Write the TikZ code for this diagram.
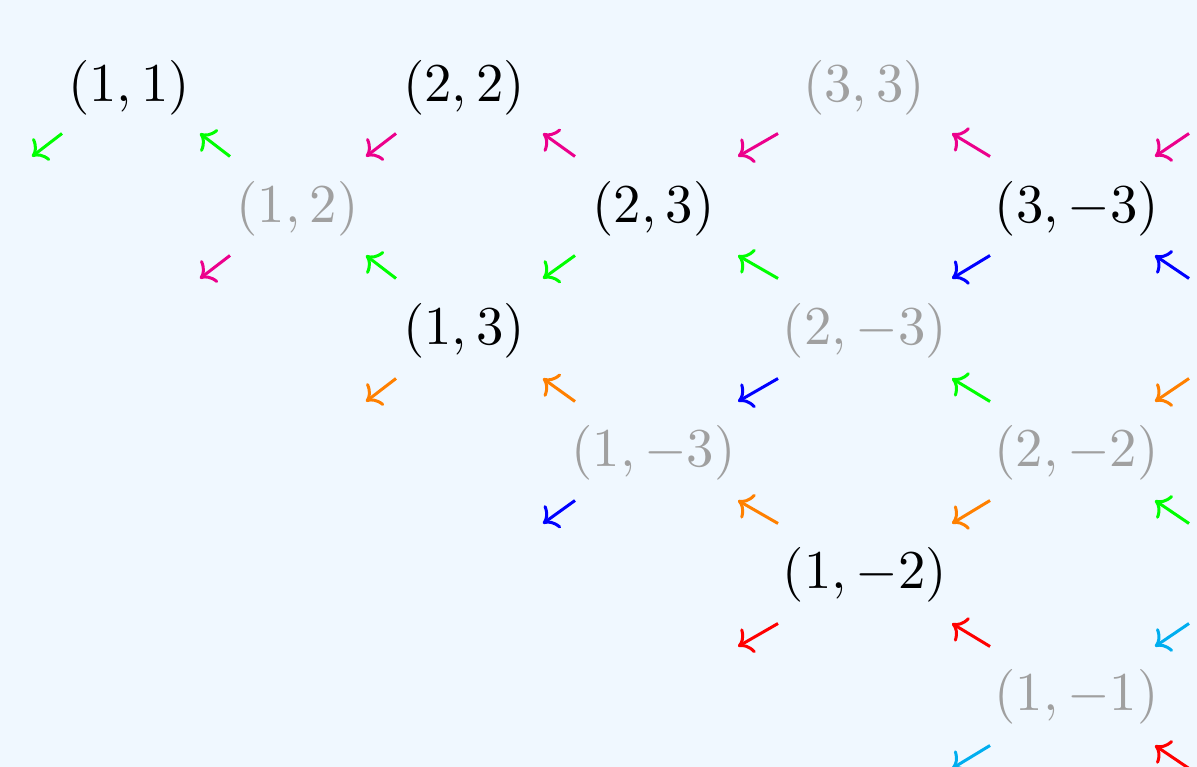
\documentclass[tikz,border=0pt]{standalone}
\usetikzlibrary{arrows.meta}
\definecolor{bgc}{HTML}{F0F8FF}
\definecolor{cgreen}{HTML}{00FF00}
\definecolor{cmag}{HTML}{EC008C}
\definecolor{cblue}{HTML}{0000FF}
\definecolor{corange}{HTML}{FF8000}
\definecolor{cred}{HTML}{FF0000}
\definecolor{ccyan}{HTML}{00AEEF}
\definecolor{cgray}{HTML}{A0A0A0}
\begin{document}
\begin{tikzpicture}[x=0.2pt,y=-0.2pt,
  lbl/.style={inner sep=0pt, text=black, font=\fontsize{10.7pt}{13pt}\selectfont},
  lblg/.style={lbl, text=cgray},
  arr/.style={line width=0.6pt, -{Computer Modern Rightarrow[length=2.6pt,width=5.6pt]}}]
\fill[bgc] (0,0) rectangle (1197,767);
\useasboundingbox (0,0) rectangle (1197,767);
% nodes
\node[lbl]  (n11) at (129,87.5) {$(1,1)$};
\node[lbl]  (n22) at (464,87.5) {$(2,2)$};
\node[lblg] (n33) at (864,87.5) {$(3,3)$};
\node[lblg] (n12) at (297.5,209) {$(1,2)$};
\node[lbl]  (n23) at (653.5,209) {$(2,3)$};
\node[lbl]  (n3m3) at (1077,209) {$(3,-3)$};
\node[lbl]  (n13) at (464,331) {$(1,3)$};
\node[lblg] (n2m3) at (865,331) {$(2,-3)$};
\node[lblg] (n1m3) at (653.5,453) {$(1,-3)$};
\node[lblg] (n2m2) at (1076.5,453) {$(2,-2)$};
\node[lbl]  (n1m2) at (865,575) {$(1,-2)$};
\node[lblg] (n1m1) at (1076.5,697) {$(1,-1)$};
% arrows: args: xleft, xright, ycenter, colour
\newcommand{\dlarr}[4]{\draw[arr,#4] (#2,#3-11.5) -- (#1,#3+11.5);}
\newcommand{\ularr}[4]{\draw[arr,#4] (#2,#3+11.5) -- (#1,#3-11.5);}
% row 1
\dlarr{32}{62}{145}{cgreen}
\ularr{200}{230}{145}{cgreen}
\dlarr{366}{396}{145}{cmag}
\ularr{543}{575}{145}{cmag}
\dlarr{738}{778}{145}{cmag}
\ularr{952}{990}{145}{cmag}
\dlarr{1155}{1189}{145}{cmag}
% row 2
\dlarr{200}{230}{267}{cmag}
\ularr{366}{396}{267}{cgreen}
\dlarr{543}{575}{267}{cgreen}
\ularr{738}{778}{267}{cgreen}
\dlarr{952}{990}{267}{cblue}
\ularr{1155}{1189}{267}{cblue}
% row 3
\dlarr{366}{396}{390}{corange}
\ularr{543}{575}{390}{corange}
\dlarr{738}{778}{390}{cblue}
\ularr{952}{990}{390}{cgreen}
\dlarr{1155}{1189}{390}{corange}
% row 4
\dlarr{543}{575}{512}{cblue}
\ularr{738}{778}{512}{corange}
\dlarr{952}{990}{512}{corange}
\ularr{1155}{1189}{512}{cgreen}
% row 5
\dlarr{738}{778}{635}{cred}
\ularr{952}{990}{635}{cred}
\dlarr{1155}{1189}{635}{ccyan}
% row 6
\dlarr{952}{990}{757}{ccyan}
\ularr{1155}{1189}{757}{cred}
\end{tikzpicture}
\end{document}
